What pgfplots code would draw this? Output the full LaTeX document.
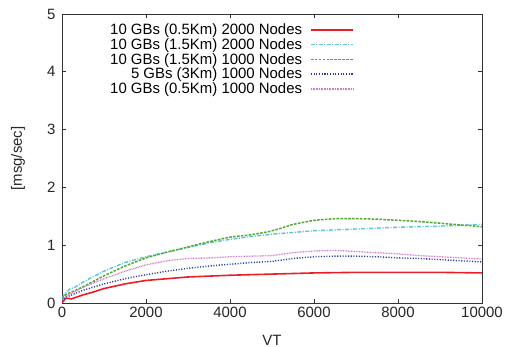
\documentclass[border=0pt]{standalone}
\usepackage{pgfplots}
\pgfplotsset{compat=1.18}
\usepackage{fontspec}
\setmainfont{Liberation Sans}
\definecolor{cR}{RGB}{235,30,40}
\definecolor{cC}{RGB}{90,195,220}
\definecolor{cG}{RGB}{80,170,45}
\definecolor{cB}{RGB}{40,60,165}
\definecolor{cP}{RGB}{210,120,200}
\tikzset{
  sR/.style={draw=cR, line width=1.6bp},
  sC/.style={draw=cC, line width=1.4bp, dash pattern=on 4bp off 1.5bp on 1bp off 1.5bp},
  sG/.style={draw=cG, line width=1.5bp, dash pattern=on 2.6bp off 1.3bp},
  sB/.style={draw=cB, line width=1.4bp, dash pattern=on 1.1bp off 1.6bp},
  sP/.style={draw=cP, line width=1.3bp, dash pattern=on 0.8bp off 0.8bp},
}
\begin{document}
\begin{tikzpicture}[x=1bp,y=1bp]
\begin{axis}[
  scale only axis,
  width=420bp, height=289bp,
  xmin=0, xmax=10000, ymin=0, ymax=5,
  xtick={0,2000,...,10000}, ytick={0,1,...,5},
  scaled x ticks=false,
  /pgf/number format/assume math mode=true,
  /pgf/number format/1000 sep={},
  tick align=inside,
  major tick length=4bp,
  tick style={black!80, line width=0.7bp},
  axis line style={line width=0.8bp, black!80},
  tick label style={font=\fontsize{15}{17}\selectfont, text=black!85},
  yticklabel style={xshift=-3bp},
  xticklabel style={yshift=-1bp},
  label style={font=\fontsize{15}{17}\selectfont, text=black!85},
  xlabel={VT}, ylabel={[msg/sec]},
  xlabel style={at={(rel axis cs:0.5,0)}, anchor=center, yshift=-37bp},
  ylabel style={at={(rel axis cs:0,0.5)}, anchor=center, rotate=0, yshift=44bp},
  legend style={draw=none, fill=none, inner sep=0pt, at={(rel axis cs:0.695,0.9733)}, anchor=north east,
    font=\fontsize{15}{16}\selectfont, row sep=-1.6bp, column sep=6bp},
  legend cell align=right,
  legend plot pos=right,
]
\addplot[sR, legend image code/.code={\draw[sR] (0bp,0bp) -- (42bp,0bp);}] coordinates {
(0,0) (60,0.06) (100,0.08) (150,0.08) (220,0.07) (300,0.09) (500,0.14) (700,0.18) (1000,0.25) (1500,0.33) (2000,0.39) (2500,0.42) (3000,0.45) (4000,0.48) (5000,0.50) (6000,0.52) (7000,0.53) (8000,0.53) (9000,0.53) (10000,0.52)};
\addlegendentry{10 GBs (0.5Km) 2000 Nodes}
\addplot[sC, legend image code/.code={\draw[sC] (0bp,0bp) -- (42bp,0bp);}] coordinates {
(0,0.10) (100,0.18) (200,0.25) (300,0.27) (500,0.36) (700,0.44) (1000,0.55) (1500,0.70) (2000,0.80) (2500,0.88) (3000,0.96) (3500,1.04) (4000,1.10) (4500,1.15) (5000,1.19) (5500,1.22) (6000,1.25) (7000,1.28) (8000,1.31) (9000,1.33) (10000,1.36)};
\addlegendentry{10 GBs (1.5Km) 2000 Nodes}
\addplot[sG, legend image code/.code={\draw[sG] (0bp,0bp) -- (42bp,0bp);}] coordinates {
(0,0.08) (100,0.15) (200,0.18) (500,0.28) (1000,0.47) (1500,0.64) (2000,0.78) (2500,0.88) (3000,0.97) (3500,1.06) (4000,1.14) (4500,1.18) (4900,1.23) (5200,1.29) (5500,1.36) (6000,1.43) (6500,1.46) (7000,1.46) (7500,1.45) (8000,1.43) (8500,1.41) (9000,1.38) (9500,1.35) (10000,1.32)};
\addlegendentry{10 GBs (1.5Km) 1000 Nodes}
\addplot[sB, legend image code/.code={\draw[sB] (0bp,0bp) -- (42bp,0bp);}] coordinates {
(0,0.04) (100,0.10) (200,0.13) (500,0.22) (1000,0.33) (1500,0.42) (2000,0.49) (2500,0.55) (3000,0.60) (3500,0.64) (4000,0.67) (4500,0.70) (5000,0.72) (5500,0.77) (6000,0.80) (6500,0.81) (7000,0.81) (7500,0.80) (8000,0.78) (8500,0.77) (9000,0.75) (9500,0.73) (10000,0.71)};
\addlegendentry{5 GBs (3Km) 1000 Nodes}
\addplot[sP, legend image code/.code={\draw[sP] (0bp,0bp) -- (42bp,0bp);}] coordinates {
(0,0.05) (100,0.12) (200,0.16) (500,0.27) (1000,0.42) (1500,0.55) (2000,0.66) (2500,0.73) (3000,0.77) (3500,0.78) (4000,0.80) (4500,0.81) (5000,0.82) (5500,0.87) (6000,0.90) (6500,0.91) (7000,0.89) (7500,0.87) (8000,0.85) (8500,0.82) (9000,0.80) (9500,0.78) (10000,0.76)};
\addlegendentry{10 GBs (0.5Km) 1000 Nodes}
\coordinate (bl) at (rel axis cs:0,0);
\coordinate (tr) at (rel axis cs:1,1);
\end{axis}
\pgfresetboundingbox
\path ([shift={(-62bp,-44bp)}]bl) rectangle ([shift={(26bp,14bp)}]tr);
\end{tikzpicture}
\end{document}
